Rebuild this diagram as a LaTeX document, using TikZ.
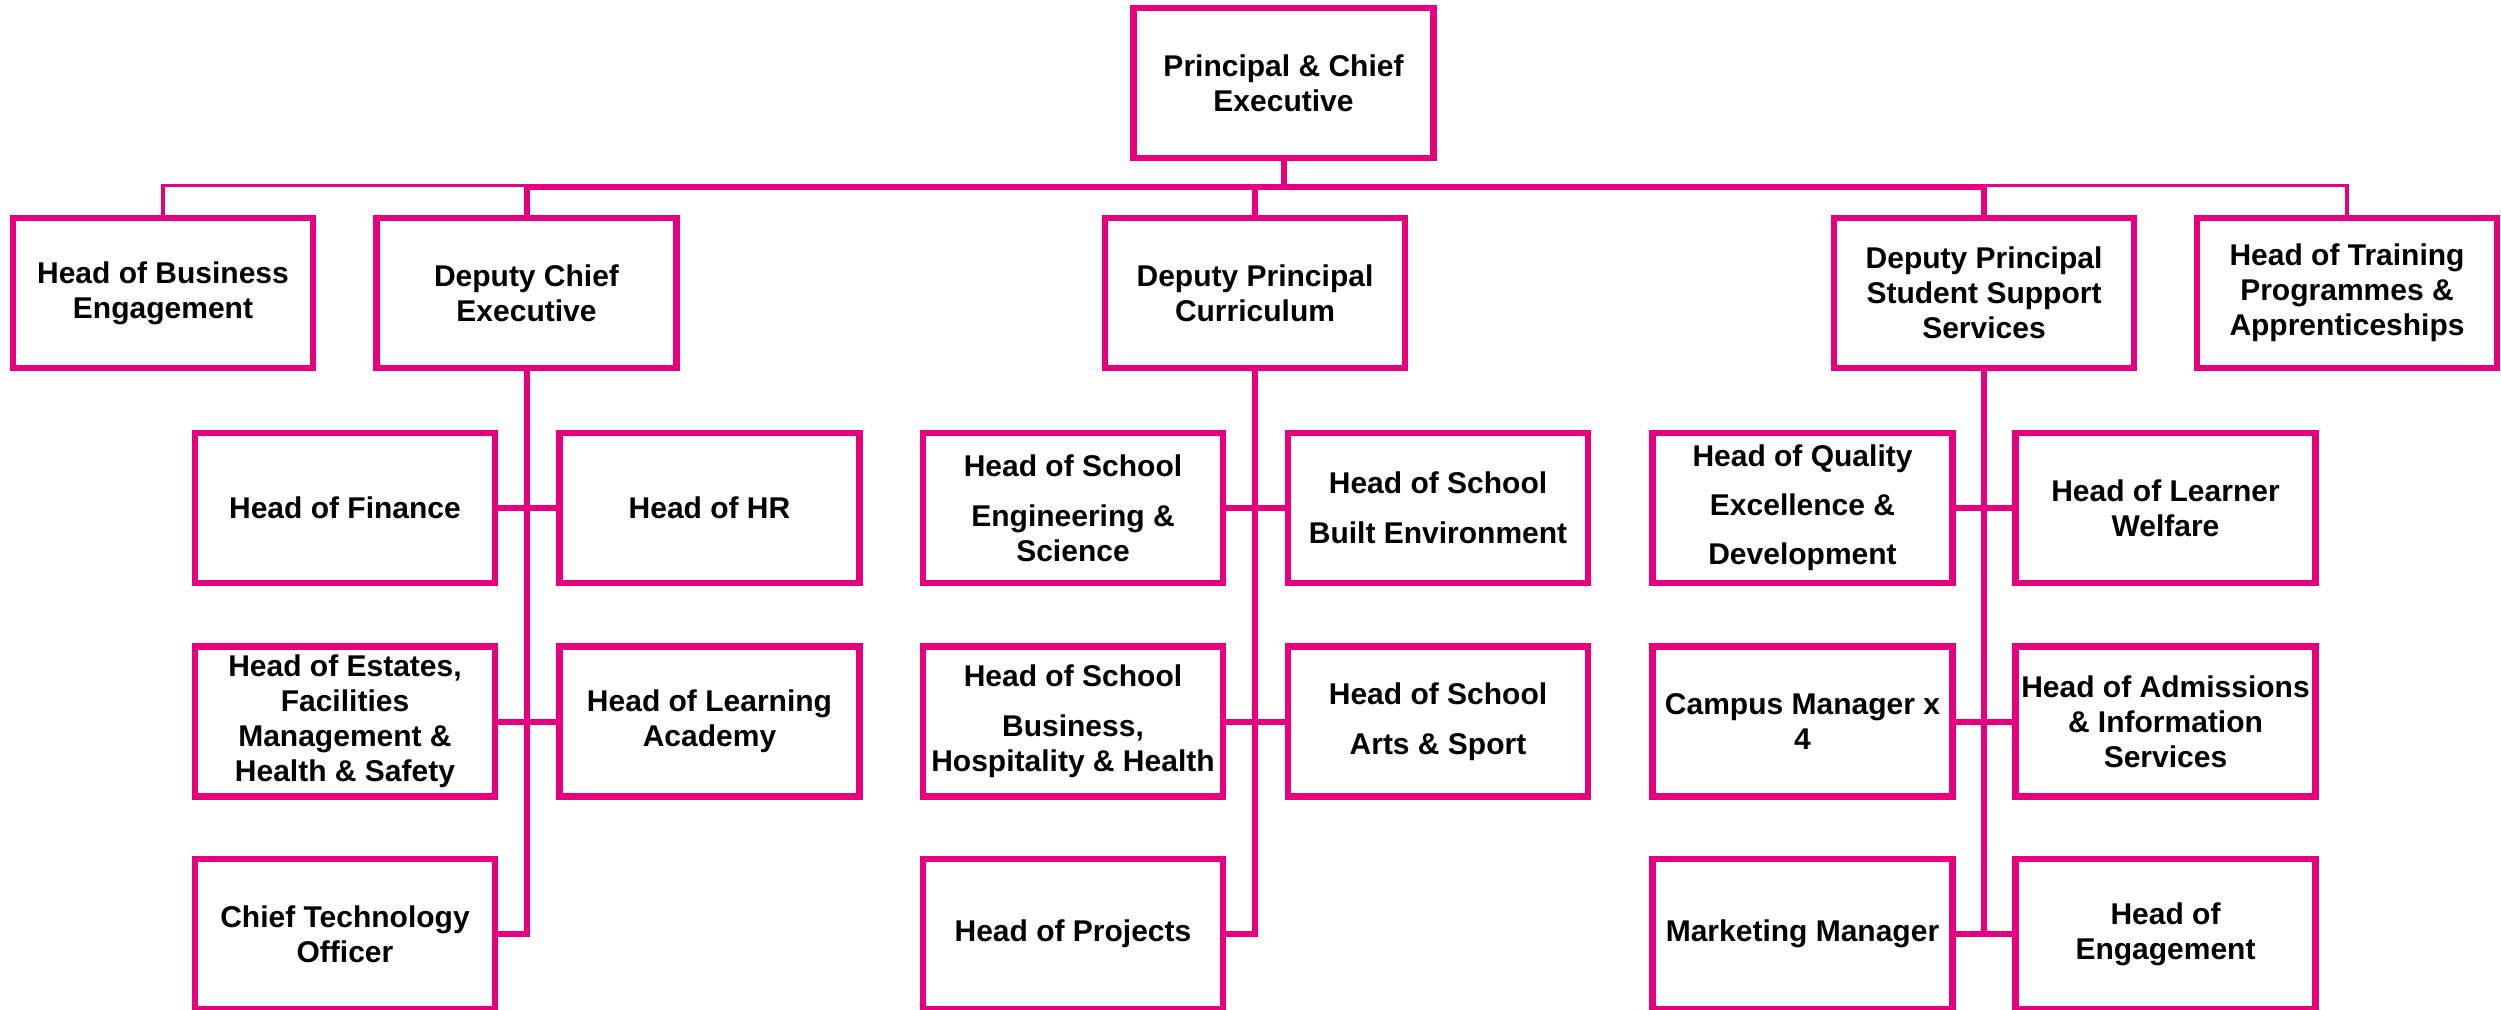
\documentclass[tikz,border=0pt]{standalone}
\usepackage{fontspec}
\setmainfont{Liberation Sans}
\definecolor{pk}{HTML}{E6007E}
\begin{document}
\begin{tikzpicture}[x=0.5pt,y=-0.5pt,
  box/.style={draw=pk, line width=3.25pt, minimum width=150pt, minimum height=75pt,
    inner sep=0pt, align=center, text=black,
    font=\fontsize{15}{17.5}\selectfont\bfseries},
  conn/.style={draw=pk, line width=3pt},
  thinconn/.style={draw=pk, line width=1.65pt}]
\useasboundingbox (0,0) rectangle (2501,1009);
\fill[white] (0,0) rectangle (2501,1009);

% top
\node[box] (pce) at (1283.5,83) {Principal \& Chief\\Executive};

% second row
\node[box] (hbe) at (163,293) {Head of Business\\Engagement};
\node[box] (dce) at (526.5,293) {Deputy Chief\\Executive};
\node[box] (dpc) at (1255,293) {Deputy Principal\\Curriculum};
\node[box] (dps) at (1984,293) {Deputy Principal\\Student Support\\Services};
\node[box] (htp) at (2347,293) {Head of Training\\Programmes \&\\Apprenticeships};

% left group
\node[box] (fin) at (345,508) {Head of Finance};
\node[box] (hr)  at (709.5,508) {Head of HR};
\node[box] (est) at (345,721.5) {Head of Estates,\\Facilities\\Management \&\\Health \& Safety};
\node[box] (hla) at (709.5,721.5) {Head of Learning\\Academy};
\node[box] (cto) at (345,934) {Chief Technology\\Officer};

% middle group
\node[box] (eng) at (1073,508) {Head of School\\[7.5pt]Engineering \&\\Science};
\node[box] (bue) at (1438,508) {Head of School\\[7.5pt]Built Environment};
\node[box] (bhh) at (1073,721.5) {Head of School\\[7.5pt]Business,\\Hospitality \& Health};
\node[box] (ars) at (1438,721.5) {Head of School\\[7.5pt]Arts \& Sport};
\node[box] (hpr) at (1073,934) {Head of Projects};

% right group
\node[box] (hqe) at (1802.5,508) {Head of Quality\\[7pt]Excellence \&\\[7pt]Development};
\node[box] (hlw) at (2165.5,508) {Head of Learner\\Welfare};
\node[box] (cmg) at (1802.5,721.5) {Campus Manager x\\4};
\node[box] (had) at (2165.5,721.5) {Head of Admissions\\\& Information\\Services};
\node[box] (mkm) at (1802.5,934) {Marketing Manager};
\node[box] (heg) at (2165.5,934) {Head of\\Engagement};

% bus
\coordinate (bus) at (1283.5,187);
\coordinate (bust) at (1283.5,185.7);
\draw[thinconn] (hbe.north) |- (dce.north |- bust);
\draw[thinconn] (htp.north) |- (dps.north |- bust);
\draw[conn] (dce.north) -- (dce.north |- bus) -- (dps.north |- bus) -- (dps.north);
\draw[conn] (dpc.north) -- (dpc.north |- bus);
\draw[conn] (pce.south) -- (pce.south |- bus);

% left connectors
\draw[conn] (dce.south) |- (cto.east);
\draw[conn] (fin.east) -- (hr.west);
\draw[conn] (est.east) -- (hla.west);

% middle connectors
\draw[conn] (dpc.south) |- (hpr.east);
\draw[conn] (eng.east) -- (bue.west);
\draw[conn] (bhh.east) -- (ars.west);

% right connectors
\draw[conn] (dps.south) |- (mkm.east);
\draw[conn] (mkm.east) -- (heg.west);
\draw[conn] (hqe.east) -- (hlw.west);
\draw[conn] (cmg.east) -- (had.west);
\end{tikzpicture}
\end{document}
